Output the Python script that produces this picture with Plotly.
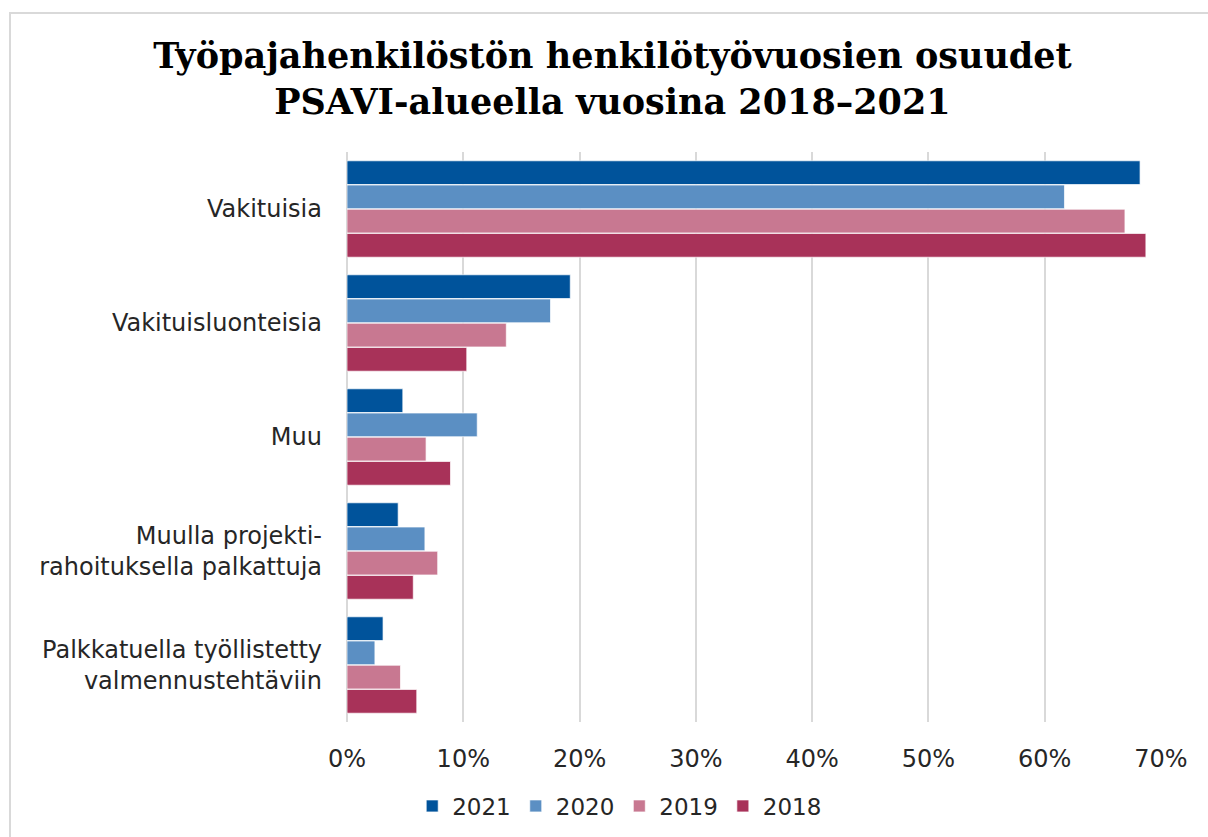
import plotly.graph_objects as go

categories = [
    "Vakituisia",
    "Vakituisluonteisia",
    "Muu",
    "Muulla projekti-<br>rahoituksella palkattuja",
    "Palkkatuella työllistetty<br>valmennustehtäviin",
]
years = ["2021", "2020", "2019", "2018"]
v2021 = [0.682, 0.192, 0.048, 0.044, 0.031]
v2020 = [0.617, 0.175, 0.112, 0.067, 0.024]
v2019 = [0.669, 0.137, 0.068, 0.078, 0.046]
v2018 = [0.687, 0.103, 0.089, 0.057, 0.060]
series = [v2021, v2020, v2019, v2018]
colors = ["#00539B", "#5B8FC3", "#C87891", "#A83259"]
ticks = [0, 0.1, 0.2, 0.3, 0.4, 0.5, 0.6, 0.7]

W, H = 1208, 837
L, R, T, B = 347, 47, 152, 115
pw, ph = W - L - R, H - T - B

fig = go.Figure()
for y, vals, c in zip(years, series, colors):
    fig.add_trace(go.Bar(
        y=categories, x=vals, name=y, orientation="h",
        marker=dict(color=c, line=dict(color="rgba(255,255,255,0.7)", width=1)),
    ))

fig.update_layout(
    width=W, height=H,
    paper_bgcolor="white", plot_bgcolor="white",
    margin=dict(l=L, r=R, t=T, b=B, autoexpand=False),
    barmode="group", bargap=0.15, bargroupgap=0.02,
    title=dict(
        text="Työpajahenkilöstön henkilötyövuosien osuudet<br>PSAVI-alueella vuosina 2018–2021",
        x=0.507, xanchor="center", xref="container",
        y=1 - 68 / H, yanchor="top", yref="container",
        font=dict(family="DejaVu Serif", size=35, color="black", weight="bold"),
    ),
    font=dict(family="DejaVu Sans", size=24, color="#262626"),
    legend=dict(
        orientation="h", xref="container", yref="container",
        x=0.513, xanchor="center", y=1 - 806 / H, yanchor="middle",
        font=dict(size=23, color="#262626"), traceorder="normal",
        itemwidth=30, bgcolor="rgba(0,0,0,0)",
    ),
    showlegend=True,
)
fig.update_xaxes(
    range=[0, 0.7], tickvals=ticks, tickformat=".0%",
    showgrid=True, gridcolor="#d9d9d9", gridwidth=2,
    zeroline=True, zerolinecolor="#d9d9d9", zerolinewidth=2,
    showline=False, ticks="", ticklabelstandoff=20, automargin=False,
)
fig.update_yaxes(
    autorange="reversed", showgrid=False, ticks="", showline=False,
    ticklabelstandoff=24, automargin=False,
)
fig.add_shape(type="rect", xref="paper", yref="paper",
              x0=(10 - L) / pw, x1=(W + 10 - L) / pw,
              y0=(H - 850 - B) / ph, y1=(H - 13 - B) / ph,
              line=dict(color="#d9d9d9", width=2), fillcolor="rgba(0,0,0,0)", layer="below")
fig.write_html("out.html", config={"displayModeBar": False},
               post_script="document.body.style.margin='0';document.body.style.padding='0';")
